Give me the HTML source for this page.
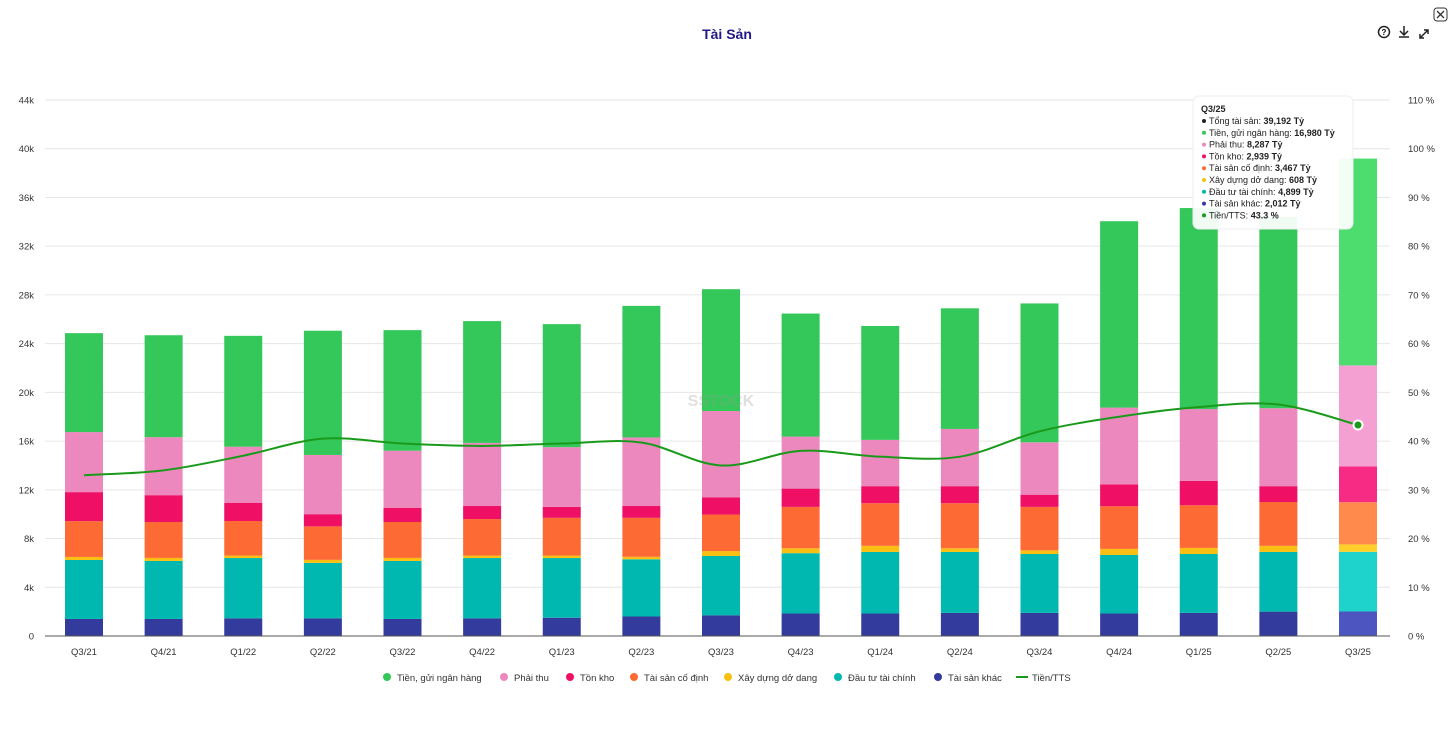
<!DOCTYPE html>
<html><head><meta charset="utf-8"><style>
body{margin:0;background:#fff;font-family:"Liberation Sans",sans-serif;}
svg text{font-family:"Liberation Sans",sans-serif;}
</style></head><body>
<svg id="c" width="1456" height="736">
<text x="727" y="39" text-anchor="middle" font-size="14" font-weight="bold" fill="#22178a">Tài Sản</text>
<g><circle cx="1384" cy="32" r="5.5" fill="none" stroke="#222" stroke-width="1.5"/><text x="1384" y="35" font-size="8" text-anchor="middle" font-weight="bold">?</text></g>
<g><path d="M1404 26v8M1400 31l4 4 4-4M1399 37h10" stroke="#222" stroke-width="1.5" fill="none"/></g>
<g><path d="M1420 38l8-8M1424 30h4v4M1420 34v4h4" stroke="#222" stroke-width="1.5" fill="none"/></g>
<g><rect x="1434" y="8" width="13" height="13" rx="3" fill="none" stroke="#333"/><path d="M1437 11l7 7M1444 11l-7 7" stroke="#333" stroke-width="1.3"/></g>
<g id="grid"></g><g id="bars"></g><g id="line"></g><g id="axes"></g><g id="legend"></g><g id="tip"></g>
</svg>
<script>
const categories=["Q3/21","Q4/21","Q1/22","Q2/22","Q3/22","Q4/22","Q1/23","Q2/23","Q3/23","Q4/23","Q1/24","Q2/24","Q3/24","Q4/24","Q1/25","Q2/25","Q3/25"];
const otherAssets=[1.4,1.4,1.45,1.45,1.4,1.45,1.5,1.6,1.7,1.85,1.85,1.9,1.9,1.85,1.9,2.0,2.012];
const finInvest=[4.84,4.76,4.95,4.55,4.76,4.95,4.9,4.7,4.87,4.95,5.05,5.0,4.83,4.8,4.83,4.9,4.899];
const construction=[0.25,0.25,0.2,0.25,0.25,0.2,0.2,0.2,0.4,0.4,0.5,0.3,0.3,0.5,0.5,0.5,0.608];
const fixedAssets=[2.94,2.95,2.84,2.75,2.95,3.0,3.1,3.2,3.0,3.4,3.5,3.7,3.57,3.5,3.5,3.6,3.467];
const inventory=[2.38,2.2,1.5,1.0,1.15,1.07,0.9,0.97,1.4,1.5,1.4,1.4,1.0,1.8,2.0,1.3,2.939];
const receivables=[4.93,4.76,4.6,4.86,4.7,5.18,4.9,5.63,7.1,4.27,3.8,4.7,4.3,6.3,5.9,6.4,8.287];
const cash=[8.12,8.37,9.1,10.2,9.9,10.0,10.1,10.8,10.0,10.1,9.35,9.9,11.4,15.3,16.5,15.7,16.98];
const cashRatio=[33,34,37,40.5,39.5,39,39.5,39.7,35,38,36.8,36.8,42,45,47,47.5,43.3];
const leftTicks=[0,4,8,12,16,20,24,28,32,36,40,44];
const rightTicks=[0,10,20,30,40,50,60,70,80,90,100,110];
const seriesNames=["Tiền, gửi ngân hàng","Phải thu","Tồn kho","Tài sản cố định","Xây dựng dở dang","Đầu tư tài chính","Tài sản khác"];

const NS="http://www.w3.org/2000/svg";
function mk(t,a,p){const e=document.createElementNS(NS,t);for(const k in a)e.setAttribute(k,a[k]);p.appendChild(e);return e;}
const y0=636,yTop=100,x0=45,x1=1390;
const yL=v=>y0-(v/44)*(y0-yTop);
const yR=v=>y0-(v/110)*(y0-yTop);
const xC=i=>84+i*(1358-84)/(categories.length-1);
const G=document.getElementById('grid'),A=document.getElementById('axes');
leftTicks.forEach((t,i)=>{
  if(t>0){const l=mk('line',{x1:x0,x2:x1,y1:yL(t),y2:yL(t),stroke:'#e6e6e6'},G);
  
  }
  const tx=mk('text',{x:34,y:yL(t)+3.5,'text-anchor':'end','font-size':9.5,fill:'#333'},A);tx.textContent=t===0?'0':t+'k';
  
  
});
rightTicks.forEach(t=>{const tx=mk('text',{x:1408,y:yR(t)+3.5,'font-size':9.5,fill:'#333'},A);tx.textContent=t+' %';
  
  });
const ax=mk('line',{x1:x0,x2:x1,y1:y0,y2:y0,stroke:'#555'},A);


categories.forEach((c,i)=>{const tx=mk('text',{x:xC(i),y:655,'text-anchor':'middle','font-size':9.5,fill:'#333'},A);tx.textContent=c;
  
  });
const stack=[otherAssets,finInvest,construction,fixedAssets,inventory,receivables,cash];
const cols=['#333b9c','#00b8b0','#f9c013','#fd6a34','#ef0f64','#ec88bd','#34c759'];
const hcols=['#4d55c0','#1fd3cd','#ffcf2a','#ff8a4c','#f72a84','#f5a0d2','#4ddd6f'];
const names=['bar-other','bar-fin-invest','bar-construction','bar-fixed','bar-inventory','bar-receivables','bar-cash'];
const B=document.getElementById('bars');
categories.forEach((c,i)=>{let acc=0;const hl=i===categories.length-1;
  stack.forEach((s,k)=>{const v=s[i];const r=mk('rect',{x:xC(i)-19,y:yL(acc+v),width:38,height:yL(acc)-yL(acc+v),fill:hl?hcols[k]:cols[k]},B);
    
    
    acc+=v;});
});
const wm=mk('text',{x:xC(8),y:406,'text-anchor':'middle','font-size':16,'font-weight':'bold',fill:'#999',opacity:0.3},B);wm.textContent='SSTOCK';


// smooth line
const pts=cashRatio.map((v,i)=>[xC(i),yR(v)]);
let d='M'+pts[0][0]+' '+pts[0][1];
for(let i=0;i<pts.length-1;i++){const p0=pts[Math.max(0,i-1)],p1=pts[i],p2=pts[i+1],p3=pts[Math.min(pts.length-1,i+2)];
  const t=0.5/3;d+=` C${p1[0]+(p2[0]-p0[0])*t} ${p1[1]+(p2[1]-p0[1])*t} ${p2[0]-(p3[0]-p1[0])*t} ${p2[1]-(p3[1]-p1[1])*t} ${p2[0]} ${p2[1]}`;}
const L=document.getElementById('line');
const pl=mk('path',{d:d,fill:'none',stroke:'#1a9a1a','stroke-width':2},L);


const last=pts[pts.length-1];
const dot=mk('circle',{cx:last[0],cy:last[1],r:4.5,fill:'#1a9a1a',stroke:'#fff','stroke-width':2},L);


// legend
const LG=document.getElementById('legend');
const legX=[383,500,566,630,724,834,934,1016];
seriesNames.forEach((n,k)=>{const col=cols[6-k];
  const g=mk('g',{},LG);
  mk('circle',{cx:legX[k]+4,cy:677,r:4,fill:col},g);
  const t=mk('text',{x:legX[k]+14,y:681,'font-size':9.5,fill:'#333'},g);t.textContent=n;});
const g=mk('g',{},LG);
mk('line',{x1:1016,x2:1028,y1:677,y2:677,stroke:'#1a9a1a','stroke-width':2},g);
const lt=mk('text',{x:1032,y:681,'font-size':9.5,fill:'#333'},g);lt.textContent='Tiền/TTS';
// tooltip
const T=document.getElementById('tip');
const tb=mk('rect',{x:1193,y:96,width:160,height:133,rx:6,fill:'#fff','fill-opacity':0.93,stroke:'#eee'},T);


const tipRows=[['#222','Tổng tài sản: ','39,192 Tỷ'],['#34c759','Tiền, gửi ngân hàng: ','16,980 Tỷ'],['#ec88bd','Phải thu: ','8,287 Tỷ'],['#ef0f64','Tồn kho: ','2,939 Tỷ'],['#fd6a34','Tài sản cố định: ','3,467 Tỷ'],['#f9c013','Xây dựng dở dang: ','608 Tỷ'],['#00b8b0','Đầu tư tài chính: ','4,899 Tỷ'],['#333b9c','Tài sản khác: ','2,012 Tỷ'],['#1a9a1a','Tiền/TTS: ','43.3 %']];
const th=mk('text',{x:1201,y:112,'font-size':9,'font-weight':'bold',fill:'#222'},T);th.textContent='Q3/25';
tipRows.forEach((r,i)=>{const y=124+i*11.8;mk('circle',{cx:1204,cy:y-3,r:2,fill:r[0]},T);
  const t=mk('text',{x:1209,y:y,'font-size':9,fill:'#222'},T);
  const a=mk('tspan',{},t);a.textContent=r[1];const b=mk('tspan',{'font-weight':'bold'},t);b.textContent=r[2];});
</script>
</body></html>
